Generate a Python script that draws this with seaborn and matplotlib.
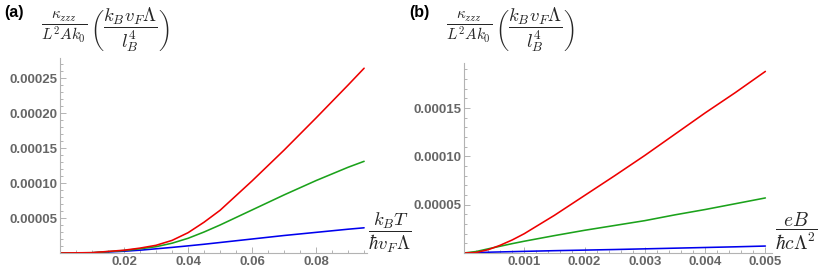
import pandas as pd
import matplotlib
matplotlib.use("Agg")
import matplotlib.pyplot as plt
from matplotlib.ticker import MultipleLocator, FixedLocator, StrMethodFormatter
import seaborn as sns

# Panel (a): kappa_zzz against k_B T / (hbar v_F Lambda)
temp_x = [0, 0.01, 0.02, 0.025, 0.03, 0.035, 0.04, 0.045, 0.05, 0.06, 0.07, 0.08, 0.09, 0.095]
temp_red = [0, 5e-7, 4e-6, 7e-6, 1.1e-5, 1.8e-5, 2.9e-5, 4.4e-5, 6.1e-5, 1.03e-4, 1.47e-4, 1.93e-4, 2.4e-4, 2.64e-4]
temp_green = [0, 4e-7, 3.5e-6, 6e-6, 9e-6, 1.4e-5, 2.1e-5, 3.0e-5, 4.0e-5, 6.15e-5, 8.3e-5, 1.035e-4, 1.225e-4, 1.31e-4]
temp_blue = [0, 3e-7, 2.5e-6, 4e-6, 6e-6, 8e-6, 1.02e-5, 1.25e-5, 1.5e-5, 2.0e-5, 2.5e-5, 2.95e-5, 3.4e-5, 3.6e-5]

# Panel (b): kappa_zzz against eB / (hbar c Lambda^2)
field_x = [0, 0.0002, 0.0004, 0.0006, 0.0008, 0.001, 0.0015, 0.002, 0.0025, 0.003, 0.0035, 0.004, 0.0045, 0.005]
field_red = [0, 5e-7, 3.4e-6, 8e-6, 1.35e-5, 2.0e-5, 3.9e-5, 5.95e-5, 8.0e-5, 1.01e-4, 1.23e-4, 1.45e-4, 1.66e-4, 1.88e-4]
field_green = [0, 1.5e-6, 4.3e-6, 7e-6, 9.7e-6, 1.22e-5, 1.8e-5, 2.35e-5, 2.85e-5, 3.35e-5, 3.95e-5, 4.5e-5, 5.1e-5, 5.7e-5]
field_blue = [0, 4e-7, 8e-7, 1.1e-6, 1.4e-6, 1.7e-6, 2.4e-6, 3.0e-6, 3.6e-6, 4.3e-6, 5.0e-6, 5.7e-6, 6.4e-6, 7.2e-6]

a_xticks = [0.02, 0.04, 0.06, 0.08]
a_yticks = [0.00005, 0.00010, 0.00015, 0.00020, 0.00025]
b_xticks = [0.001, 0.002, 0.003, 0.004, 0.005]
b_yticks = [0.00005, 0.00010, 0.00015]

palette = {"blue": "#0000ee", "green": "#1ba21b", "red": "#ee0000"}
order = ["blue", "green", "red"]


def long_frame(x, red, green, blue):
    parts = []
    for name, vals in zip(["red", "green", "blue"], [red, green, blue]):
        parts.append(pd.DataFrame({"x": x, "y": vals, "curve": name}))
    return pd.concat(parts, ignore_index=True)


df_a = long_frame(temp_x, temp_red, temp_green, temp_blue)
df_b = long_frame(field_x, field_red, field_green, field_blue)

sns.set_style("ticks")
plt.rcParams["font.family"] = ["Liberation Sans", "DejaVu Sans"]
plt.rcParams["mathtext.fontset"] = "cm"

W, H = 822, 276
fig = plt.figure(figsize=(W / 100, H / 100), dpi=100)
ax_a = fig.add_axes([60 / W, 23 / H, 307 / W, 195 / H])
ax_b = fig.add_axes([464 / W, 23 / H, 308 / W, 190 / H])

setup = [
    (ax_a, df_a, (0, 0.0959), (0, 2.786e-4), a_xticks, a_yticks, 0.005, "{x:.2f}"),
    (ax_b, df_b, (0, 0.00511), (0, 1.967e-4), b_xticks, b_yticks, 0.0002, "{x:.3f}"),
]

for ax, df, xlim, ylim, xt, yt, xminor, xfmt in setup:
    sns.lineplot(data=df, x="x", y="y", hue="curve", hue_order=order,
                 palette=palette, linewidth=1.15, legend=False, ax=ax)
    ax.set_xlim(*xlim)
    ax.set_ylim(*ylim)
    ax.set_facecolor("none")
    ax.xaxis.set_major_locator(FixedLocator(xt))
    ax.yaxis.set_major_locator(FixedLocator(yt))
    ax.xaxis.set_minor_locator(MultipleLocator(xminor))
    ax.yaxis.set_minor_locator(MultipleLocator(0.00001))
    ax.xaxis.set_major_formatter(StrMethodFormatter(xfmt))
    ax.yaxis.set_major_formatter(StrMethodFormatter("{x:.5f}"))
    ax.set_xlabel("")
    ax.set_ylabel("")
    for side in ["top", "right"]:
        ax.spines[side].set_visible(False)
    for side in ["left", "bottom"]:
        ax.spines[side].set_color("#b3b3b3")
        ax.spines[side].set_linewidth(0.8)
    ax.tick_params(which="both", direction="in", color="#b3b3b3", width=0.7)
    ax.tick_params(which="major", length=4, pad=2, labelsize=9.5, labelcolor="#666666")
    ax.tick_params(which="minor", length=2)
    for lbl in ax.get_xticklabels() + ax.get_yticklabels():
        lbl.set_fontweight("bold")


def px(x, y):
    return x / W, 1 - y / H


frac_kappa = r"$\dfrac{\kappa_{zzz}}{L^2 A k_0}$"
frac_units = r"$\left(\dfrac{k_B v_F \Lambda}{l_B^4}\right)$"

fig.text(*px(14, 13), "(a)", fontsize=11.5, fontweight="bold", color="black",
         ha="center", va="center")
fig.text(*px(64, 28), frac_kappa, fontsize=11, ha="center", va="center")
fig.text(*px(130, 30), frac_units, fontsize=13.5, ha="center", va="center")
fig.text(*px(390, 233), r"$\dfrac{k_B T}{\hbar v_F \Lambda}$", fontsize=13.5,
         ha="center", va="center")

fig.text(*px(419, 13), "(b)", fontsize=11.5, fontweight="bold", color="black",
         ha="center", va="center")
fig.text(*px(469, 28), frac_kappa, fontsize=11, ha="center", va="center")
fig.text(*px(535, 30), frac_units, fontsize=13.5, ha="center", va="center")
fig.text(*px(796, 231), r"$\dfrac{eB}{\hbar c \Lambda^2}$", fontsize=14,
         ha="center", va="center")

fig.savefig("out.png", dpi=100)
